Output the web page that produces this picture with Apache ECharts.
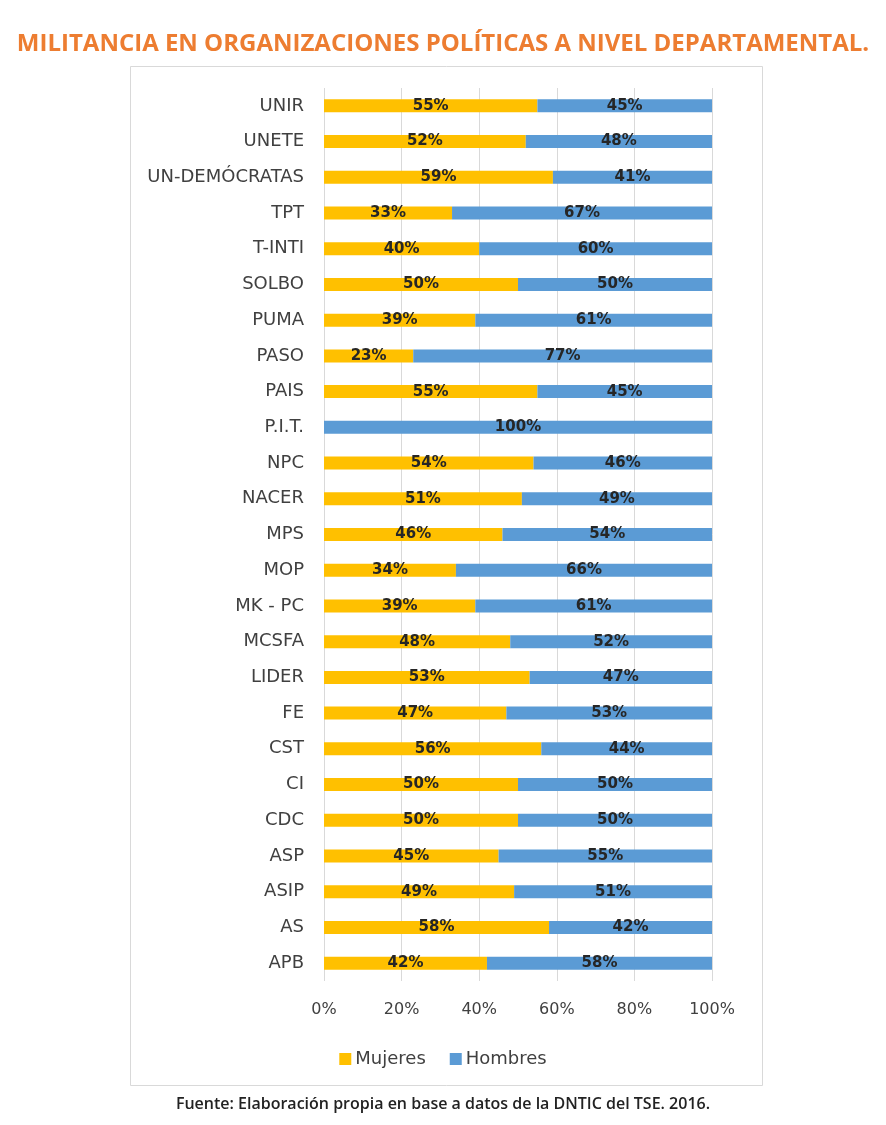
<!DOCTYPE html>
<html>
<head>
<meta charset="utf-8">
<script src="https://cdn.jsdelivr.net/npm/echarts@6/dist/echarts.min.js"></script>
<style>
html,body{margin:0;padding:0;background:#fff;}
#chart{width:886px;height:1125px;}
</style>
</head>
<body>
<div id="chart"></div>
<script>
const titleText = 'MILITANCIA EN ORGANIZACIONES POLÍTICAS A NIVEL DEPARTAMENTAL.';
const sourceText = 'Fuente: Elaboración propia en base a datos de la DNTIC del TSE. 2016.';
const categories = ['UNIR','UNETE','UN-DEMÓCRATAS','TPT','T-INTI','SOLBO','PUMA','PASO','PAIS','P.I.T.','NPC','NACER','MPS','MOP','MK - PC','MCSFA','LIDER','FE','CST','CI','CDC','ASP','ASIP','AS','APB'];
const mujeres = [55,52,59,33,40,50,39,23,55,0,54,51,46,34,39,48,53,47,56,50,50,45,49,58,42];
const hombres = [45,48,41,67,60,50,61,77,45,100,46,49,54,66,61,52,47,53,44,50,50,55,51,42,58];
const xTicks = [0,20,40,60,80,100];

const chart = echarts.init(document.getElementById('chart'));
const labelStyle = {
  show: true,
  position: 'inside',
  fontSize: 15,
  fontWeight: 'bold',
  color: '#262626',
  fontFamily: 'DejaVu Sans',
  formatter: p => p.value > 0 ? p.value + '%' : ''
};
chart.setOption({
  backgroundColor: '#fff',
  animation: false,
  title: {
    text: titleText,
    left: 'center',
    top: 27,
    textStyle: {fontSize: 24, fontWeight: 'bold', color: '#ED7D31', fontFamily: 'Open Sans'}
  },
  graphic: [
    {type: 'rect', shape: {x: 130.5, y: 66.5, width: 632, height: 1019}, style: {fill: 'none', stroke: '#d9d9d9', lineWidth: 1}, z: -1},
    {type: 'text', left: 'center', top: 1096, style: {text: sourceText, fontSize: 16, fontWeight: 600, fill: '#222', fontFamily: 'Open Sans'}}
  ],
  legend: {
    data: ['Mujeres','Hombres'],
    left: 'center',
    top: 1045,
    icon: 'rect',
    itemWidth: 12,
    itemHeight: 12,
    itemGap: 24,
    textStyle: {fontSize: 18, color: '#404040', fontFamily: 'DejaVu Sans', padding: [0, 0, 0, -1]}
  },
  grid: {left: 324, right: 174, top: 88, bottom: 144, containLabel: false},
  xAxis: {
    type: 'value',
    min: 0, max: 100, interval: 20,
    axisLine: {show: false},
    axisTick: {show: false},
    splitLine: {show: true, lineStyle: {color: '#d9d9d9', width: 1}},
    axisLabel: {formatter: v => xTicks.includes(v) ? v + '%' : '', fontSize: 16, color: '#404040', margin: 21, fontFamily: 'DejaVu Sans'}
  },
  yAxis: {
    type: 'category',
    data: categories,
    inverse: true,
    axisLine: {show: false},
    axisTick: {show: false},
    axisLabel: {fontSize: 18, color: '#404040', margin: 20, fontFamily: 'DejaVu Sans'}
  },
  series: [
    {name: 'Mujeres', type: 'bar', stack: 'total', data: mujeres, barWidth: 13, itemStyle: {color: '#FFC000'}, label: labelStyle},
    {name: 'Hombres', type: 'bar', stack: 'total', data: hombres, barWidth: 13, itemStyle: {color: '#5B9BD5'}, label: labelStyle}
  ]
});
</script>
</body>
</html>
